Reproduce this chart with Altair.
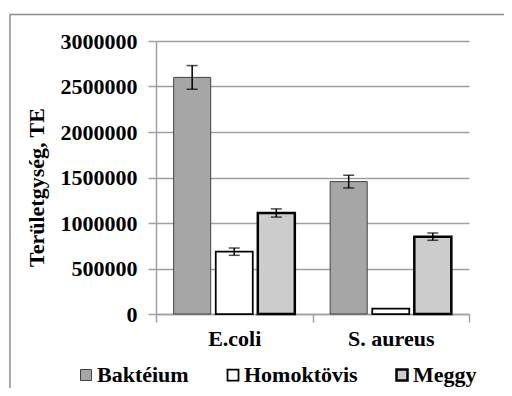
import altair as alt
import pandas as pd

categories = ["E.coli", "S. aureus"]
series = ["Baktéium", "Homoktövis", "Meggy"]
bakterium = [2600000, 1455000]
homoktovis = [685000, 60000]
meggy = [1110000, 850000]
err_bakterium = [130000, 70000]
err_homoktovis = [40000, 0]
err_meggy = [45000, 40000]
y_ticks = [0, 500000, 1000000, 1500000, 2000000, 2500000, 3000000]

rows = []
for s, vals, errs in [("Baktéium", bakterium, err_bakterium),
                      ("Homoktövis", homoktovis, err_homoktovis),
                      ("Meggy", meggy, err_meggy)]:
    for c, v, e in zip(categories, vals, errs):
        rows.append({"cat": c, "series": s, "value": v, "err": e,
                     "lo": v - e, "hi": v + e})
df = pd.DataFrame(rows)

FONT = "Times New Roman, Liberation Serif, DejaVu Serif, serif"

x_enc = alt.X("cat:N", sort=categories,
              scale=alt.Scale(domain=categories, paddingInner=0, paddingOuter=0),
              axis=alt.Axis(title=None, labelAngle=0, tickBand="extent",
                            tickSize=8, tickColor="#a0a0a0", tickWidth=1.5,
                            domainColor="#a0a0a0", domainWidth=1.5,
                            labelFont=FONT, labelFontSize=22, labelFontWeight="bold",
                            labelColor="#000000", labelPadding=6, grid=False))
xo_enc = alt.XOffset("series:N", sort=series,
                     scale=alt.Scale(domain=series, paddingInner=0.12, paddingOuter=0.42))

legend_kw = dict(title=None, orient="none", direction="horizontal",
                 legendX=-81, legendY=323,
                 symbolType="square", symbolSize=121,
                 symbolStrokeWidth=1.5,
                 labelFont=FONT, labelFontSize=22,
                 labelFontWeight="bold", labelColor="#000000",
                 labelOffset=0, columnPadding=33)

base = alt.Chart(df)

bars = base.mark_bar().encode(
    x=x_enc,
    xOffset=xo_enc,
    y=alt.Y("value:Q",
            scale=alt.Scale(domain=[0, 3000000], nice=False),
            axis=alt.Axis(title="Területgység, TE", values=y_ticks, format="d",
                          tickSize=8, tickColor="#a0a0a0", tickWidth=1.5,
                          domainColor="#a0a0a0", domainWidth=1.5,
                          gridColor="#a0a0a0", gridWidth=1.5,
                          labelFont=FONT, labelFontSize=22, labelFontWeight="bold",
                          labelColor="#000000", labelPadding=11,
                          titleFont=FONT, titleFontSize=22, titleFontWeight="bold",
                          titleColor="#000000", titleAngle=270,
                          titleX=-120, titleY=146, titleAlign="center",
                          titleBaseline="middle")),
    color=alt.Color("series:N", sort=series,
                    scale=alt.Scale(domain=series, range=["#a6a6a6", "#ffffff", "#cccccc"]),
                    legend=alt.Legend(**legend_kw)),
    stroke=alt.Stroke("series:N", sort=series,
                      scale=alt.Scale(domain=series, range=["#404040", "#000000", "#000000"]),
                      legend=alt.Legend(**legend_kw)),
    strokeWidth=alt.StrokeWidth("series:N", sort=series,
                                scale=alt.Scale(domain=series, range=[1, 2.5, 2.5]),
                                legend=None),
)

err_df = base.transform_filter("datum.err > 0")

err_rule = err_df.mark_rule(color="#000000", strokeWidth=1.5).encode(
    x=alt.X("cat:N", sort=categories), xOffset=alt.XOffset("series:N", sort=series),
    y="lo:Q", y2="hi:Q")
cap_lo = err_df.mark_tick(color="#000000", size=11, thickness=1.5).encode(
    x=alt.X("cat:N", sort=categories), xOffset=alt.XOffset("series:N", sort=series),
    y="lo:Q")
cap_hi = err_df.mark_tick(color="#000000", size=11, thickness=1.5).encode(
    x=alt.X("cat:N", sort=categories), xOffset=alt.XOffset("series:N", sort=series),
    y="hi:Q")

border = alt.Chart(pd.DataFrame({"a": [0]})).mark_rect(
    fill=None, stroke="#8c8c8c", strokeWidth=1.5, clip=False).encode(
    x=alt.value(-146), x2=alt.value(600), y=alt.value(-26.5), y2=alt.value(600))

chart = alt.layer(bars, err_rule, cap_lo, cap_hi, border).properties(
    width=313, height=273,
    autosize=alt.AutoSizeParams(type="none"),
    padding={"left": 148, "top": 33, "right": 35, "bottom": 74},
).configure_view(stroke=None).configure_axisY(gridDash=[])

chart.save("out.html", embed_options={"renderer": "svg", "actions": False})
